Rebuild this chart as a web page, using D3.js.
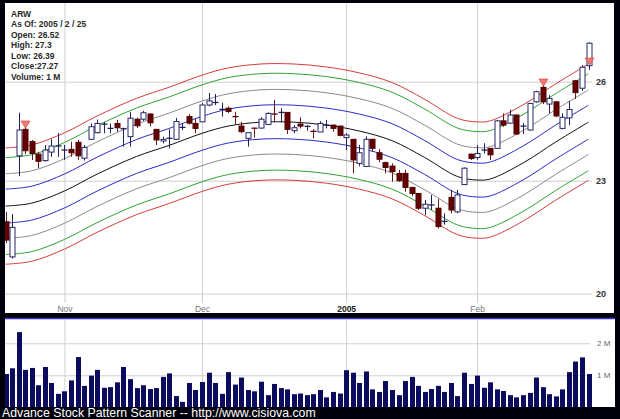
<!DOCTYPE html>
<html><head><meta charset="utf-8">
<script src="https://cdn.jsdelivr.net/npm/d3@7/dist/d3.min.js"></script>
<style>html,body{margin:0;padding:0;background:#000;}svg{display:block;}</style>
</head><body>
<svg id="c" width="620" height="419"></svg>
<script>
const dates = ["2004-10-19","2004-10-20","2004-10-21","2004-10-22","2004-10-25","2004-10-26","2004-10-27","2004-10-28","2004-10-29",
"2004-11-01","2004-11-02","2004-11-03","2004-11-04","2004-11-05","2004-11-08","2004-11-09","2004-11-10","2004-11-11","2004-11-12","2004-11-15","2004-11-16","2004-11-17","2004-11-18","2004-11-19","2004-11-22","2004-11-23","2004-11-24","2004-11-26","2004-11-29","2004-11-30",
"2004-12-01","2004-12-02","2004-12-03","2004-12-06","2004-12-07","2004-12-08","2004-12-09","2004-12-10","2004-12-13","2004-12-14","2004-12-15","2004-12-16","2004-12-17","2004-12-20","2004-12-21","2004-12-22","2004-12-23","2004-12-27","2004-12-28","2004-12-29","2004-12-30","2004-12-31",
"2005-01-03","2005-01-04","2005-01-05","2005-01-06","2005-01-07","2005-01-10","2005-01-11","2005-01-12","2005-01-13","2005-01-14","2005-01-18","2005-01-19","2005-01-20","2005-01-21","2005-01-24","2005-01-25","2005-01-26","2005-01-27","2005-01-28","2005-01-31",
"2005-02-01","2005-02-02","2005-02-03","2005-02-04","2005-02-07","2005-02-08","2005-02-09","2005-02-10","2005-02-11","2005-02-14","2005-02-15","2005-02-16","2005-02-17","2005-02-18","2005-02-22","2005-02-23","2005-02-24","2005-02-25"];
const open = [21.86,20.93,23.72,24.51,24.14,23.77,23.58,23.83,24.00,23.88,
23.91,24.12,23.65,24.21,24.41,24.66,24.53,24.69,24.52,24.29,
24.82,24.82,24.98,24.51,24.16,24.23,24.21,24.56,24.90,24.69,
24.74,25.26,25.33,25.12,25.16,24.92,24.61,24.24,24.56,24.55,
24.66,24.99,25.02,25.03,24.47,24.67,24.59,24.47,24.43,24.63,
24.64,24.61,24.26,24.21,23.50,23.41,24.21,23.81,23.52,23.42,
23.21,23.21,22.81,22.64,22.23,22.31,22.23,21.86,22.53,22.13,
22.89,23.77,23.67,23.88,23.94,23.94,24.77,24.70,24.95,24.60,
24.49,25.36,25.82,25.29,25.36,24.54,24.86,26.03,25.79,26.52];
const high = [22.13,22.07,25.02,24.58,24.19,23.84,24.04,24.21,24.40,24.04,
24.14,24.19,24.04,24.69,24.81,24.74,24.69,24.80,24.56,25.05,
24.87,25.08,25.00,24.52,24.29,24.51,24.86,24.69,24.98,24.85,
25.32,25.64,25.61,25.33,25.21,25.05,24.74,24.41,24.56,24.88,
25.03,25.42,25.16,25.04,24.64,24.88,24.64,24.51,24.76,24.80,
24.65,24.62,24.39,24.22,24.04,24.30,24.22,23.92,23.55,23.50,
23.31,23.31,22.82,22.65,22.46,22.60,22.48,22.09,22.74,22.74,
23.38,23.78,24.04,24.09,23.95,24.80,25.00,25.12,24.96,24.70,
25.32,25.71,25.95,25.57,25.37,25.00,25.39,26.04,26.54,27.30];
const low = [21.29,20.89,23.13,23.77,23.60,23.36,23.55,23.69,23.69,23.60,
23.69,23.60,23.58,24.19,24.39,24.39,24.39,24.44,23.99,23.99,
24.55,24.77,24.60,24.04,24.09,23.94,24.19,24.49,24.66,24.39,
24.74,25.22,25.26,24.90,25.01,24.65,24.39,23.99,24.26,24.53,
24.64,24.72,24.72,24.37,24.39,24.54,24.47,24.24,24.43,24.54,
24.44,24.30,23.89,23.21,23.41,23.41,23.84,23.53,23.21,22.97,
22.97,22.69,22.56,22.18,22.04,22.18,21.68,21.78,22.09,22.09,
22.89,23.60,23.60,23.79,23.60,23.94,24.59,24.68,24.34,24.37,
24.48,25.33,25.29,25.01,24.88,24.51,24.64,25.45,25.71,26.39];
const close = [21.37,21.71,24.49,23.87,23.79,23.56,23.89,24.01,24.02,23.90,
23.81,23.72,23.97,24.59,24.69,24.68,24.55,24.56,24.54,24.85,
24.62,25.02,24.71,24.19,24.21,24.25,24.75,24.58,24.70,24.54,
25.26,25.39,25.35,25.13,25.06,24.88,24.44,24.41,24.53,24.82,
25.00,24.97,25.04,24.51,24.56,24.61,24.61,24.43,24.69,24.65,
24.54,24.33,24.34,23.60,23.81,24.21,23.94,23.62,23.38,23.26,
23.00,22.81,22.64,22.23,22.34,22.33,21.73,21.88,22.18,22.60,
23.36,23.64,23.79,23.90,23.75,24.77,24.64,24.95,24.37,24.62,
25.31,25.68,25.36,25.47,24.92,24.88,25.12,25.65,26.47,27.27];
const volumeM = [1.04,1.22,2.35,1.17,1.23,0.69,1.26,0.76,0.42,0.50,
0.84,1.57,0.67,0.99,1.17,0.61,0.63,0.78,1.26,0.88,
0.60,0.69,0.57,0.60,0.95,1.06,0.35,0.17,0.76,0.54,
0.79,1.08,0.76,0.42,1.10,0.71,0.93,0.54,0.50,0.80,
0.38,0.73,0.60,0.56,0.41,0.43,0.38,0.41,0.54,0.31,
0.48,0.43,1.16,1.08,0.76,1.12,0.56,0.48,0.82,0.54,
0.38,0.82,0.95,0.67,0.48,0.57,0.67,0.48,0.76,0.35,
1.08,0.73,0.99,0.61,0.78,0.56,0.51,0.38,0.31,0.38,
0.45,0.93,0.63,0.41,0.34,0.56,1.10,1.43,1.56,1.04];
// smooth band centre (trading-day index, price)
const centerIdx = [0,4,9,14,20,25,30,34,39,44,49,54,59,64,69,72,74,79,84,89];
const centerVal = [22.29,22.37,22.71,23.19,23.70,24.03,24.39,24.61,24.73,24.73,24.64,24.46,24.17,23.67,23.12,23.02,23.05,23.51,24.13,24.73];
// band offsets (log units) and colours, top to bottom
const bandOffsets = [0.072,0.060,0.040,0.021,0,-0.021,-0.040,-0.060,-0.072];
const bandColors = ["#d23c3c","#2ea42e","#8a8a8a","#2b2bc4","#111111","#2b2bc4","#8a8a8a","#2ea42e","#d23c3c"];
const markerIdx = [3,82,89];
const markerPrice = [24.55,25.86,26.54];
const priceTicks = [20,23,26];
const volTicks = [1,2];
const monthTickIdx = [9,30,52,72];
const monthLabels = ["Nov","Dec","2005","Feb"];
const infoLines = ["ARW","As Of: 2005 / 2 / 25","Open: 26.52","High: 27.3","Low: 26.39","Close:27.27","Volume: 1 M"];
const footer = "Advance Stock Pattern Scanner -- http://www.cisiova.com";

const svg = d3.select("#c");
const FONT = "'Liberation Sans', Arial, sans-serif";
svg.append("rect").attr("width",620).attr("height",419).attr("fill","#00000a");
// panels
svg.append("rect").attr("x",5).attr("y",3).attr("width",609).attr("height",310).attr("fill","#fff");
svg.append("rect").attr("x",5).attr("y",319).attr("width",610).attr("height",88).attr("fill","#fff");
svg.append("line").attr("x1",5).attr("x2",615).attr("y1",318.5).attr("y2",318.5).attr("stroke","#3434c8").attr("stroke-width",1.5);

const x = d3.scaleLinear().domain([0,89]).range([5.5,588.5]);
const y = d3.scaleLog().domain([20,26]).range([293.6,81.7]);
const yv = d3.scaleLinear().domain([0,2.75]).range([407.3,319.3]);

const defs = svg.append("defs");
defs.append("clipPath").attr("id","mainclip").append("rect").attr("x",5).attr("y",3).attr("width",609).attr("height",310);
defs.append("clipPath").attr("id","volclip").append("rect").attr("x",5).attr("y",319).attr("width",610).attr("height",88.3);

// gridlines main
const gGridY = svg.append("g").attr("transform","translate(592,0)")
  .call(d3.axisLeft(y).tickValues(priceTicks).tickSize(587).tickFormat(""));
gGridY.select(".domain").remove();
gGridY.selectAll("line").attr("stroke","#cfcfcf");
const gGridX = svg.append("g").attr("transform","translate(0,3)")
  .call(d3.axisBottom(x).tickValues(monthTickIdx).tickSize(300).tickFormat(""));
gGridX.select(".domain").remove();
gGridX.selectAll("line").attr("stroke","#cfcfcf");

// price labels
const gYL = svg.append("g").attr("transform","translate(592,0)")
  .call(d3.axisRight(y).tickValues(priceTicks).tickSize(0).tickPadding(4).tickFormat(d3.format("d")));
gYL.select(".domain").remove();
gYL.selectAll("text").attr("font-family",FONT).attr("font-size","9px").attr("font-weight","bold").attr("fill","#333");

// month labels
const gXL = svg.append("g").attr("transform","translate(0,303)")
  .call(d3.axisBottom(x).tickValues(monthTickIdx).tickSize(0).tickPadding(3).tickFormat((d,i)=>monthLabels[i]));
gXL.select(".domain").remove();
gXL.selectAll("text").attr("font-family",FONT).attr("font-size","8.5px")
  .attr("font-weight",(d,i)=>monthLabels[i]==="2005"?"bold":"normal")
  .attr("fill",(d,i)=>monthLabels[i]==="2005"?"#222":"#777");

// bands
const plot = svg.append("g").attr("clip-path","url(#mainclip)");
const centerPts = centerIdx.map((d,i)=>[d,centerVal[i]]);
bandOffsets.forEach((off,k)=>{
  const line = d3.line().x(d=>x(d[0])).y(d=>y(d[1]*Math.exp(off))).curve(d3.curveCatmullRom.alpha(0.5));
  plot.append("path").attr("d",line(centerPts)).attr("fill","none").attr("stroke",bandColors[k]).attr("stroke-width",1);
});

// candles
const bw = 5;
const cg = plot.append("g");
dates.forEach((dt,i)=>{
  const cx = Math.round(x(i))+0.5;
  const up = close[i] >= open[i];
  const yo = y(open[i]), yc = y(close[i]);
  const top = Math.min(yo,yc), bot = Math.max(yo,yc);
  const wickCol = up ? "#20205e" : "#6a1a1a";
  cg.append("line").attr("x1",cx).attr("x2",cx).attr("y1",y(high[i])).attr("y2",y(low[i])).attr("stroke",wickCol).attr("stroke-width",1);
  if (bot-top < 1.5) {
    cg.append("line").attr("x1",cx-bw/2-0.5).attr("x2",cx+bw/2+0.5).attr("y1",(top+bot)/2).attr("y2",(top+bot)/2)
      .attr("stroke",up?"#20205e":"#5a0000").attr("stroke-width",1.3);
  } else {
    cg.append("rect").attr("x",cx-bw/2).attr("y",top).attr("width",bw).attr("height",bot-top)
      .attr("fill",up?"#ffffff":"#650000").attr("stroke",up?"#26266a":"#4e0000").attr("stroke-width",1);
  }
});
// markers
markerIdx.forEach((idx,k)=>{
  const cx = Math.round(x(idx))+0.5, ty = y(markerPrice[k]);
  plot.append("path").attr("d",`M${cx-4.5},${ty-7}L${cx+4.5},${ty-7}L${cx},${ty}Z`)
    .attr("fill","#f27a72").attr("stroke","#d8504a").attr("stroke-width",0.8);
});

// info text
const info = svg.append("g");
infoLines.forEach((t,i)=>{
  info.append("text").attr("x",11).attr("y",16.7+i*10.5).text(t)
    .attr("font-family",FONT).attr("font-size","8.5px").attr("font-weight","bold").attr("fill","#2a2a2a");
});

// volume panel
const gVG = svg.append("g").attr("transform","translate(590,0)")
  .call(d3.axisLeft(yv).tickValues(volTicks).tickSize(585).tickFormat(""));
gVG.select(".domain").remove();
gVG.selectAll("line").attr("stroke","#cfcfcf");
const gVX = svg.append("g").attr("transform","translate(0,319)")
  .call(d3.axisBottom(x).tickValues(monthTickIdx).tickSize(88).tickFormat(""));
gVX.select(".domain").remove();
gVX.selectAll("line").attr("stroke","#cfcfcf");
const gVL = svg.append("g").attr("transform","translate(592,0)")
  .call(d3.axisRight(yv).tickValues(volTicks).tickSize(0).tickPadding(5).tickFormat(d=>d+" M"));
gVL.select(".domain").remove();
gVL.selectAll("text").attr("font-family",FONT).attr("font-size","8px").attr("fill","#666");

svg.append("g").attr("clip-path","url(#volclip)").selectAll("rect").data(volumeM).join("rect")
  .attr("x",(d,i)=>Math.round(x(i))-2).attr("width",5)
  .attr("y",d=>yv(d)).attr("height",d=>yv(0)-yv(d))
  .attr("fill","#0c0c5e");

// footer
svg.append("text").attr("x",2).attr("y",417).text(footer)
  .attr("font-family",FONT).attr("font-size","12.3px").attr("fill","#fff");
</script>
</body></html>
